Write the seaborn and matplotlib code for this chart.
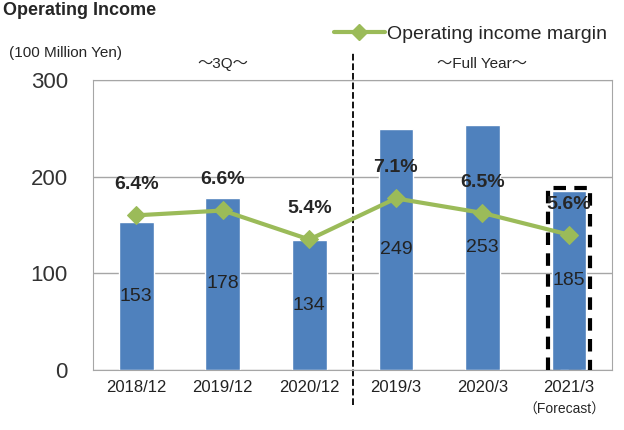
import matplotlib
matplotlib.use('Agg')

import matplotlib.pyplot as plt
import seaborn as sns
import pandas as pd
from matplotlib.patches import Rectangle
from matplotlib.lines import Line2D

periods = ['2018/12', '2019/12', '2020/12', '2019/3', '2020/3', '2021/3']
income = [153, 178, 134, 249, 253, 185]
margin = [6.4, 6.6, 5.4, 7.1, 6.5, 5.6]
margin_labels = ['6.4%', '6.6%', '5.4%', '7.1%', '6.5%', '5.6%']

BAR_COLOR = '#4F81BD'
LINE_COLOR = '#9BBB59'
JP = ['Liberation Sans', 'Noto Sans CJK JP', 'DejaVu Sans']

sns.set_style('white')
plt.rcParams['font.family'] = ['Liberation Sans', 'DejaVu Sans']

df = pd.DataFrame({'period': periods, 'income': income, 'margin': margin})

fig = plt.figure(figsize=(6.24, 4.30), dpi=100)
ax = fig.add_axes([0.149, 0.1395, 0.832, 0.6745])

sns.barplot(data=df, x='period', y='income', color=BAR_COLOR, width=0.4,
            saturation=1, ax=ax)
for c in ax.containers:
    ax.bar_label(c, labels=[str(v) for v in income], label_type='center',
                 fontsize=14, color='#222222')

ax.set_ylim(0, 300)
ax.set_xlim(-0.5, 5.5)
ax.set_yticks([0, 100, 200, 300])
ax.tick_params(axis='y', labelsize=16, length=0, pad=18, colors='#333333')
ax.tick_params(axis='x', labelsize=12, colors='#222222')
ax.set_xlabel('')
ax.set_ylabel('')
ax.yaxis.grid(True, color='#A6A6A6', lw=1)
ax.set_axisbelow(True)
for s in ax.spines.values():
    s.set_color('#A6A6A6')

# margin line on hidden secondary axis
ax2 = ax.twinx()
sns.lineplot(x=list(range(len(periods))), y=margin, ax=ax2, color=LINE_COLOR,
             lw=3, marker='D', markersize=9, markeredgecolor=LINE_COLOR)
ax2.set_ylim(0, 12)
ax2.set_yticks([])
ax2.set_xlim(-0.5, 5.5)
for s in ax2.spines.values():
    s.set_visible(False)
for i, (m, lab) in enumerate(zip(margin, margin_labels)):
    ax2.annotate(lab, (i, m), xytext=(0, 22), textcoords='offset points',
                 ha='center', va='center', fontsize=14, fontweight='bold')

# divider between 3Q and full year
ax.plot([2.5, 2.5], [-0.12, 1.1], transform=ax.get_xaxis_transform(),
        color='black', ls='--', lw=1.3, clip_on=False)

# forecast box
ax.add_patch(Rectangle((5 - 0.24, -2), 0.48, 190, fill=False, ec='black',
                       lw=3, ls=(0, (3, 2)), zorder=5))

ax.text(1, 1.055, '～3Q～', transform=ax.get_xaxis_transform(), ha='center',
        va='center', fontsize=11, family=JP)
ax.text(4, 1.055, '～Full Year～', transform=ax.get_xaxis_transform(),
        ha='center', va='center', fontsize=11, family=JP)
fig.text(0.015, 0.877, '(100 Million Yen)', fontsize=11, va='center')
fig.text(0.905, 0.047, '（Forecast）', fontsize=10, ha='center', va='center',
         family=JP)
fig.text(0.005, 0.995, 'Operating Income', fontsize=13, fontweight='bold',
         va='top', ha='left')

handle = Line2D([], [], color=LINE_COLOR, lw=3, marker='D', markersize=8)
fig.legend(handles=[handle], labels=['Operating income margin'],
           loc='center right', bbox_to_anchor=(1.0, 0.92), frameon=False,
           fontsize=14, handlelength=2.6, handletextpad=0.1)

plt.savefig('out.png', dpi=100)
